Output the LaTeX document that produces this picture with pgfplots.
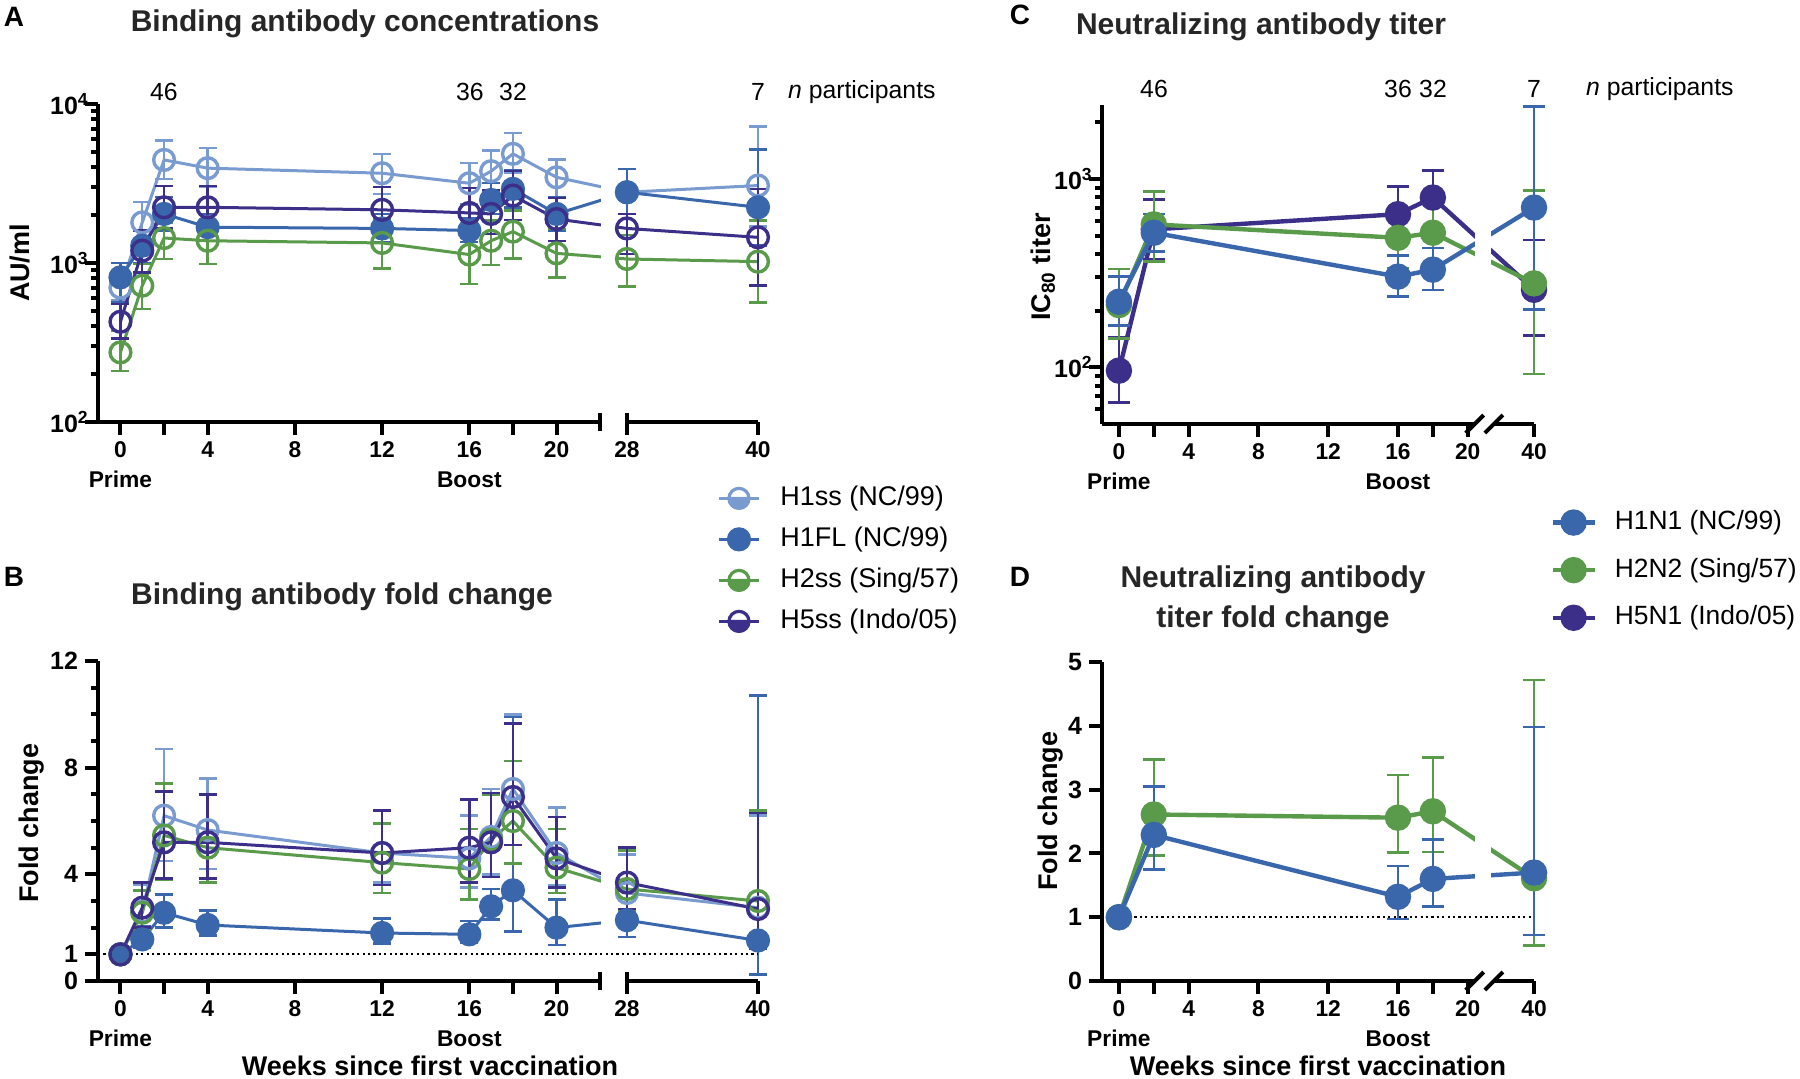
\documentclass[border=0pt]{standalone}
\usepackage{fontspec}
\setmainfont{Liberation Sans}
\usepackage{pgfplots}
\pgfplotsset{compat=1.18}
\usepackage{pgfplotstable}

\definecolor{cHa}{HTML}{7A9BD0}
\definecolor{cHb}{HTML}{3A67AC}
\definecolor{cHc}{HTML}{5A9A4B}
\definecolor{cHd}{HTML}{3B2F8A}

\newcommand\ttl{\fontsize{15}{20}\selectfont\bfseries}
\newcommand\lab{\fontsize{13.5}{16}\selectfont\bfseries}
\newcommand\tck{\fontsize{11.4}{15}\selectfont\bfseries}
\newcommand\tcklog{\fontsize{12.5}{14}\selectfont\bfseries}
\newcommand\npt{\fontsize{12.4}{15}\selectfont}
\newcommand\leg{\fontsize{13.5}{16}\selectfont}
\newcommand\legc{\fontsize{13.2}{16}\selectfont}
\newcommand\pl{\fontsize{14}{16}\selectfont\bfseries}

% ---------- Panel A: binding antibody concentrations (x: 28 -> 23.23, 40 -> 29.24)
\pgfplotstableread{
x y hi lo
0 700 850 580
1 1800 2410 1380
2 4450 5900 3380
4 3950 5270 3000
12 3670 4850 2720
16 3175 4260 2330
17 3780 5090 2850
18 4860 6550 3670
20 3460 4470 2590
23.23 2785 3900 2035
29.24 3070 7210 1700
}\Aone
\pgfplotstableread{
x y hi lo
0 812 1000 566
1 1285 1600 990
2 2035 2590 1600
4 1680 2035 1380
12 1650 2035 1350
16 1600 1900 1350
17 2490 3180 2035
18 2925 3810 2240
20 2035 2590 1600
23.23 2785 3900 2035
29.24 2240 5170 1285
}\Atwo
\pgfplotstableread{
x y hi lo
0 274 375 210
1 720 985 513
2 1436 1800 1060
4 1380 1800 985
12 1337 1890 925
16 1130 1560 740
17 1380 1850 970
18 1575 2140 1070
20 1150 1640 810
23.23 1060 1500 710
29.24 1020 1850 566
}\Athree
\pgfplotstableread{
x y hi lo
0 427 550 336
1 1196 1600 870
2 2240 3040 1650
4 2240 3040 1650
12 2160 3000 1600
16 2065 2960 1450
17 2035 2880 1520
18 2655 3780 1870
20 1890 2570 1380
23.23 1650 2035 1140
29.24 1450 2920 720
}\Afour
% ---------- Panel B: fold change
\pgfplotstableread{
x y hi lo
0 1 1 1
1 2.6 3.6 1.9
2 6.2 8.7 4.5
4 5.66 7.6 4.2
12 4.8 6.4 3.7
16 4.6 6.2 3.5
17 5.4 7.2 4.0
18 7.2 10.0 5.1
20 4.8 6.5 3.6
23.23 3.3 4.75 2.7
29.24 2.75 6.2 1.4
}\Bone
\pgfplotstableread{
x y hi lo
0 1 1 1
1 1.56 2.06 1.25
2 2.56 3.25 2.0
4 2.1 2.65 1.7
12 1.8 2.35 1.4
16 1.75 2.25 1.45
17 2.8 3.45 2.3
18 3.4 9.9 1.85
20 2.0 3.06 1.35
23.23 2.28 2.7 1.65
29.24 1.52 10.7 0.25
}\Btwo
\pgfplotstableread{
x y hi lo
0 1 1 1
1 2.56 3.4 1.9
2 5.46 7.4 3.8
4 5.0 7.0 3.7
12 4.44 5.9 3.3
16 4.2 5.7 3.06
17 5.3 7.0 3.9
18 6.0 8.25 4.4
20 4.25 5.7 3.3
23.23 3.45 4.9 2.6
29.24 3.0 6.4 1.5
}\Bthree
\pgfplotstableread{
x y hi lo
0 1 1 1
1 2.75 3.7 2.0
2 5.2 7.1 3.85
4 5.2 7.0 3.85
12 4.8 6.4 3.6
16 5.0 6.8 3.7
17 5.2 7.05 3.9
18 6.9 9.65 5.1
20 4.6 6.15 3.5
23.23 3.69 5.0 2.7
29.24 2.7 6.3 1.2
}\Bfour
% ---------- Panel C: neutralizing titer (x: 40 -> 23.8)
\pgfplotstableread{
x y hi lo
0 223 303 167
2 518 650 413
16 303 392 237
18 330 430 257
23.8 705 2420 203
}\Cone
\pgfplotstableread{
x y hi lo
0 214 332 142
2 574 855 365
16 487 690 336
18 518 765 351
23.8 279 866 92
}\Ctwo
\pgfplotstableread{
x y hi lo
0 96 145 65
2 540 780 375
16 650 913 458
18 797 1108 551
23.8 258 473 148
}\Cthree
% ---------- Panel D: titer fold change
\pgfplotstableread{
x y hi lo
0 1 1 1
2 2.29 3.05 1.75
16 1.32 1.80 0.975
18 1.60 2.22 1.17
23.8 1.70 3.98 0.72
}\Done
\pgfplotstableread{
x y hi lo
0 1 1 1
2 2.61 3.47 1.97
16 2.56 3.23 2.01
18 2.66 3.50 2.02
23.8 1.61 4.72 0.56
}\Dtwo

\pgfplotsset{
  /pgfplots/table/errtab/.style={x=x,y=y,
    y error plus expr={\thisrow{hi}-\thisrow{y}},
    y error minus expr={\thisrow{y}-\thisrow{lo}}},
  panel/.style={
    scale only axis, clip=false,
    axis x line*=bottom, axis y line*=left,
    axis line style={line width=2pt,-},
    tick style={line width=2pt,black},
    tick align=outside, major tick length=6.5pt, minor tick length=3.5pt,
    tick label style={font=\tck},
    xticklabel style={align=center},
  },
  serA/.style={line width=1.5pt, mark size=5.2pt, mark options={solid,line width=1.7pt},
    error bars/y dir=both, error bars/y explicit,
    error bars/error bar style={line width=1.2pt, solid},
    error bars/error mark options={line width=1.2pt, mark size=4.5pt, rotate=90}},
  serC/.style={line width=2.2pt, mark=*, mark size=5.5pt, mark options={solid},
    error bars/y dir=both, error bars/y explicit,
    error bars/error bar style={line width=1.3pt, solid},
    error bars/error mark options={line width=1.3pt, mark size=5.5pt, rotate=90}},
  halfleg/.style={legend image code/.code={
    \draw (0pt,0pt) -- (20pt,0pt);
    \draw[fill=white, line width=1.6pt] (10pt,0pt) circle (5pt);
    \fill (5pt,0pt) arc[start angle=180, end angle=360, radius=5pt] -- cycle;
    \draw (5pt,0pt) -- (15pt,0pt);}},
}

\begin{document}
\begin{tikzpicture}
\useasboundingbox (0,0) rectangle (900pt,-539.5pt);

% ================= Panel A
\begin{axis}[panel, at={(49pt,-211pt)}, anchor=south west,
  width=330pt, height=159pt,
  xmin=-1.03, xmax=29.24, ymode=log, ymin=100, ymax=10000,
  xtick={0,2,4,8,12,16,18,20,23.23,29.24},
  xticklabels={{0\\Prime},,4,8,12,{16\\Boost},,20,28,40},
  ytick={100,1000,10000},
  yticklabel style={font=\tcklog},
  yticklabels={10\rlap{\textsuperscript{2}},10\rlap{\textsuperscript{3}},10\rlap{\textsuperscript{4}}},
  minor ytick={200,300,400,500,600,700,800,900,2000,3000,4000,5000,6000,7000,8000,9000},
  legend cell align=left,
  legend style={at={(0.938,-0.198)}, anchor=north west, draw=none, fill=none,
    inner sep=0pt, font=\leg, row sep=7.5pt,
    nodes={inner sep=0pt, text height=10pt, text depth=3pt},
    /tikz/every odd column/.append style={column sep=10pt}},
  legend image code/.code={\draw[mark repeat=2,mark phase=2] plot coordinates {(0pt,0pt) (10pt,0pt) (20pt,0pt)};},
]
\addplot[serA, color=cHa, mark=o, halfleg] table[errtab]{\Aone};
\addplot[serA, color=cHb, mark=*] table[errtab]{\Atwo};
\addplot[serA, color=cHc, mark=o, halfleg] table[errtab]{\Athree};
\addplot[serA, color=cHd, mark=o, halfleg] table[errtab]{\Afour};
\legend{H1ss (NC/99),H1FL (NC/99),H2ss (Sing/57),H5ss (Indo/05)}
\fill[white] (axis cs:22.06,105) rectangle (axis cs:22.72,9500);
\fill[white] ([yshift=-3pt]axis cs:22.05,100) rectangle ([yshift=3pt]axis cs:23.18,100);
\draw[line width=2pt] ([yshift=-4.5pt]axis cs:22,100) -- ([yshift=4.5pt]axis cs:22,100);
\draw[line width=2pt] ([yshift=-4.5pt]axis cs:23.23,100) -- ([yshift=4.5pt]axis cs:23.23,100);
\end{axis}

% ================= Panel B
\begin{axis}[panel, at={(49pt,-490.5pt)}, anchor=south west,
  width=330pt, height=160pt,
  xmin=-1.03, xmax=29.24, ymin=0, ymax=12,
  xtick={0,2,4,8,12,16,18,20,23.23,29.24},
  xticklabels={{0\\Prime},,4,8,12,{16\\Boost},,20,28,40},
  ytick={0,1,4,8,12}, yticklabels={0,1,4,8,12},
  yticklabel style={font=\tcklog},
  minor ytick={2,3,5,6,7,9,10,11},
]
\addplot[serA, color=cHa, mark=o] table[errtab]{\Bone};
\addplot[serA, color=cHb, mark=*] table[errtab]{\Btwo};
\addplot[serA, color=cHc, mark=o] table[errtab]{\Bthree};
\addplot[serA, color=cHd, mark=o] table[errtab]{\Bfour};
\fill[white] (axis cs:22.06,0.2) rectangle (axis cs:22.72,11.8);
\fill[white] ([yshift=-3pt]axis cs:22.05,0) rectangle ([yshift=3pt]axis cs:23.18,0);
\draw[line width=2pt] ([yshift=-4.5pt]axis cs:22,0) -- ([yshift=4.5pt]axis cs:22,0);
\draw[line width=2pt] ([yshift=-4.5pt]axis cs:23.23,0) -- ([yshift=4.5pt]axis cs:23.23,0);
\addplot[black, line width=1.1pt, dash pattern=on 1.1pt off 1.6pt, forget plot] coordinates {(-1.03,1) (29.24,1)};
\end{axis}

% ================= Panel C
\begin{axis}[panel, at={(551pt,-212pt)}, anchor=south west,
  width=216pt, height=159.5pt,
  xmin=-0.97, xmax=23.8, ymode=log, ymin=50, ymax=2470,
  xtick={0,2,4,8,12,16,18,20,23.8},
  xticklabels={{0\\Prime},,4,8,12,{16\\Boost},,20,40},
  ytick={100,1000},
  yticklabel style={font=\tcklog},
  yticklabels={10\rlap{\textsuperscript{2}},10\rlap{\textsuperscript{3}}},
  minor ytick={60,70,80,90,200,300,400,500,600,700,800,900,2000},
  reverse legend, legend cell align=left,
  legend style={at={(1.037,-0.267)}, anchor=north west, draw=none, fill=none,
    inner sep=0pt, font=\legc, row sep=10.8pt,
    nodes={inner sep=0pt, text height=10pt, text depth=3pt},
    /tikz/every odd column/.append style={column sep=9pt}},
  legend image code/.code={\draw[mark repeat=2,mark phase=2] plot coordinates {(0pt,0pt) (10.5pt,0pt) (21pt,0pt)};},
]
\addplot[serC, color=cHd] table[errtab]{\Cthree};
\addplot[serC, color=cHc] table[errtab]{\Ctwo};
\addplot[serC, color=cHb] table[errtab]{\Cone};
\legend{H5N1 (Indo/05),H2N2 (Sing/57),H1N1 (NC/99)}
\fill[white] (axis cs:20.4,52) rectangle (axis cs:21.35,2400);
\fill[white] ([yshift=-3pt]axis cs:20.4,50) rectangle ([yshift=3pt]axis cs:21.5,50);
\draw[line width=2pt] ([xshift=-4.5pt,yshift=-4.5pt]axis cs:20.4,50) -- ([xshift=4.5pt,yshift=4.5pt]axis cs:20.4,50);
\draw[line width=2pt] ([xshift=-4.5pt,yshift=-4.5pt]axis cs:21.5,50) -- ([xshift=4.5pt,yshift=4.5pt]axis cs:21.5,50);
\end{axis}

% ================= Panel D
\begin{axis}[panel, at={(551pt,-490.5pt)}, anchor=south west,
  width=216pt, height=159.5pt,
  xmin=-0.97, xmax=23.8, ymin=0, ymax=5,
  xtick={0,2,4,8,12,16,18,20,23.8},
  xticklabels={{0\\Prime},,4,8,12,{16\\Boost},,20,40},
  ytick={0,1,2,3,4,5}, yticklabels={0,1,2,3,4,5},
  yticklabel style={font=\tcklog},
]
\addplot[serC, color=cHc] table[errtab]{\Dtwo};
\addplot[serC, color=cHb] table[errtab]{\Done};
\fill[white] (axis cs:20.4,0.1) rectangle (axis cs:21.35,4.9);
\fill[white] ([yshift=-3pt]axis cs:20.4,0) rectangle ([yshift=3pt]axis cs:21.5,0);
\draw[line width=2pt] ([xshift=-4.5pt,yshift=-4.5pt]axis cs:20.4,0) -- ([xshift=4.5pt,yshift=4.5pt]axis cs:20.4,0);
\draw[line width=2pt] ([xshift=-4.5pt,yshift=-4.5pt]axis cs:21.5,0) -- ([xshift=4.5pt,yshift=4.5pt]axis cs:21.5,0);
\addplot[black, line width=1.1pt, dash pattern=on 1.1pt off 1.6pt, forget plot] coordinates {(-0.97,1) (23.8,1)};
\end{axis}

% ================= Texts (pixel coordinates of the 1800x1079 reference)
\begin{scope}[x=0.5pt, y=-0.5pt]
\node[font=\pl] at (14,17) {A};
\node[font=\pl] at (14,577) {B};
\node[font=\pl] at (1020,15) {C};
\node[font=\pl] at (1020,577) {D};
\node[font=\ttl, text=black!85] at (365,24) {Binding antibody concentrations};
\node[font=\ttl, text=black!85] at (342,597) {Binding antibody fold change};
\node[font=\ttl, text=black!85] at (1261,27) {Neutralizing antibody titer};
\node[font=\ttl, text=black!85, align=center] at (1273,600) {Neutralizing antibody\\titer fold change};
% n participants
\node[font=\npt] at (164,92) {46};
\node[font=\npt] at (470,92) {36};
\node[font=\npt] at (513,92) {32};
\node[font=\npt] at (758,92) {7};
\node[font=\npt, anchor=west] at (781,92) {\textit{n} participants};
\node[font=\npt] at (1154,89) {46};
\node[font=\npt] at (1398,89) {36};
\node[font=\npt] at (1433,89) {32};
\node[font=\npt] at (1534,89) {7};
\node[font=\npt, anchor=west] at (1579,89) {\textit{n} participants};
% axis labels
\node[font=\lab, rotate=90] at (20,263) {AU/ml};
\node[font=\lab, rotate=90] at (1043,267) {IC\textsubscript{80} titer};
\node[font=\lab, rotate=90] at (32,823) {Fold change};
\node[font=\lab, rotate=90] at (1051,811) {Fold change};
\node[font=\lab] at (430,1066) {Weeks since first vaccination};
\node[font=\lab] at (1318,1066) {Weeks since first vaccination};
\end{scope}
\end{tikzpicture}
\end{document}
